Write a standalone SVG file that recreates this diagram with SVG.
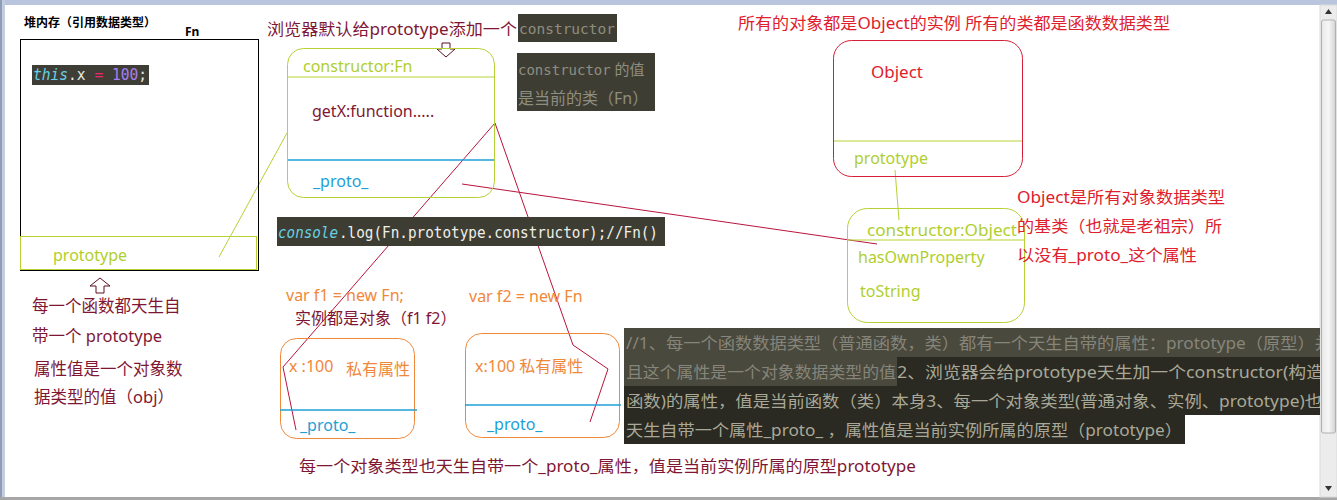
<svg xmlns="http://www.w3.org/2000/svg" width="1337" height="500" viewBox="0 0 1337 500">
<defs>
<style>
.cn{font-family:"Noto Sans","Noto Sans CJK SC",sans-serif;}
.mono{font-family:"DejaVu Sans Mono","Liberation Mono","Noto Sans CJK SC",monospace;}
.maroon{fill:#7f1734;}
.red{fill:#e0202c;}
.green{fill:#b0cf2e;}
.orange{fill:#f0883a;}
.blue{fill:#1e9fd6;}
.gl{stroke:#b4d234;fill:none;stroke-width:1;}
.rl{stroke:#b8143c;fill:none;stroke-width:1;}
.bl{stroke:#1e9fd6;stroke-width:1.3;}
.codebg{fill:#3e3d33;}
.hollow{fill:#fff;stroke:#5a1020;stroke-width:1;}
</style>
<clipPath id="clipCode"><rect x="620" y="320" width="700" height="130"/></clipPath>
<linearGradient id="thumb" x1="0" x2="1" y1="0" y2="0">
<stop offset="0" stop-color="#e8e8e8"/><stop offset="0.5" stop-color="#f6f6f6"/><stop offset="1" stop-color="#d4d4d4"/>
</linearGradient>
</defs>
<rect width="1337" height="500" fill="#ffffff"/>
<!-- window frame -->
<g id="frame">
<rect x="0" y="0" width="1337" height="5" fill="#b9c5dd"/>
<rect x="0" y="0" width="5" height="500" fill="#c2cde0"/>
<rect x="0" y="0" width="2" height="500" fill="#8e9cb8"/>
<rect x="0" y="497" width="1337" height="3" fill="#a6a6a6"/>
<rect x="1320" y="5" width="17" height="492" fill="#ececec"/>
<rect x="1320" y="5" width="17" height="492" fill="none" stroke="#dadada"/>
<path d="M1325,14 L1332,14 L1328.5,9 Z" fill="#333"/>
<rect x="1321.5" y="20" width="14" height="413" rx="2" fill="url(#thumb)" stroke="#b0b0b0"/>
<path d="M1325,486 L1332,486 L1328.5,491 Z" fill="#333"/>
</g>

<!-- connectors -->
<g id="connectors">
<line class="gl" x1="219" y1="257" x2="287" y2="133"/>
<line class="gl" x1="895" y1="170" x2="899" y2="220"/>
<line class="rl" x1="462" y1="184" x2="877" y2="244"/>
<polyline class="rl" points="495,123 283,367 296,430"/>
<polyline class="rl" points="495,123 573,345 608,369 590,422"/>
<path id="arrowUp" class="hollow" d="M100,278 L110,286 L104,286 L104,293 L96,293 L96,286 L90,286 Z"/>
<path id="arrowDown" class="hollow" d="M442,43 L450,43 L450,49 L455,49 L446,57 L437,49 L442,49 Z"/>
</g>

<!-- heap Fn box -->
<g id="heap">
<text x="24" y="27" font-family="'Noto Sans','Noto Sans CJK SC',sans-serif" font-size="12" font-weight="bold" fill="#000">堆内存（引用数据类型）</text>
<text x="185" y="36" font-family="'Noto Sans',sans-serif" font-size="12" font-weight="bold" fill="#000">Fn</text>
<rect x="20.5" y="39.5" width="238" height="231" fill="none" stroke="#000" stroke-width="1"/>
<rect x="32" y="65" width="117" height="20" fill="#3f3e36"/>
<text x="33" y="80" class="mono" font-size="15" textLength="114" lengthAdjust="spacingAndGlyphs"><tspan fill="#66d0e4" font-style="italic">this</tspan><tspan fill="#e8e8e0">.x </tspan><tspan fill="#f2266e">=</tspan><tspan fill="#e8e8e0"> </tspan><tspan fill="#a87ff0">100</tspan><tspan fill="#e8e8e0">;</tspan></text>
<rect x="20.5" y="236.5" width="236" height="33" class="gl"/>
<text x="53" y="261" class="cn green" font-size="16">prototype</text>
</g>

<g id="note-fn-prototype">
<text x="32" y="312" class="cn maroon" font-size="16.5">每一个函数都天生自</text>
<text x="32" y="342" class="cn maroon" font-size="16.5">带一个 prototype</text>
<text x="34" y="375" class="cn maroon" font-size="16.5">属性值是一个对象数</text>
<text x="34" y="403" class="cn maroon" font-size="16.5">据类型的值（obj）</text>
</g>

<!-- top note -->
<g id="note-constructor">
<text x="267" y="35" class="cn maroon" font-size="16" textLength="250" lengthAdjust="spacingAndGlyphs">浏览器默认给prototype添加一个</text>
<rect x="518" y="14" width="99" height="28" class="codebg"/>
<text x="519" y="34" class="mono" font-size="14" fill="#8e8e80" textLength="96" lengthAdjust="spacingAndGlyphs">constructor</text>
</g>

<g id="note-constructor-value">
<rect x="517" y="53" width="138" height="58" class="codebg"/>
<text x="518" y="75" class="cn" font-size="15" fill="#8e8e80"><tspan class="mono" font-size="14">constructor</tspan> 的值</text>
<text x="518" y="104" class="cn" font-size="16" fill="#8e8e80">是当前的类（Fn）</text>
</g>

<!-- Fn.prototype box -->
<g id="fn-prototype">
<rect x="287.5" y="48.5" width="207" height="149" rx="16" class="gl"/>
<line class="gl" x1="287.5" y1="77" x2="494.5" y2="77"/>
<text x="303" y="72" class="cn green" font-size="16">constructor:Fn</text>
<text x="312" y="117" class="cn maroon" font-size="16">getX:function.....</text>
<line class="bl" x1="288" y1="160" x2="494" y2="160"/>
<text x="313" y="187" class="cn blue" font-size="16">_proto_</text>
</g>

<g id="console-note">
<rect x="277" y="217" width="388" height="29" class="codebg"/>
<text x="278" y="238" class="mono" font-size="16" fill="#66d0e4" font-style="italic" textLength="60" lengthAdjust="spacingAndGlyphs">console</text>
<text x="339" y="238" class="mono" font-size="16" fill="#f0f0e8" textLength="319" lengthAdjust="spacingAndGlyphs">.log(Fn.prototype.constructor);//Fn()</text>
</g>

<!-- Object -->
<g id="note-object">
<text x="738" y="29" class="cn red" font-size="16" textLength="432" lengthAdjust="spacingAndGlyphs">所有的对象都是Object的实例 所有的类都是函数数据类型</text>
</g>

<g id="object">
<rect x="833.5" y="40.5" width="189" height="136" rx="18" fill="none" stroke="#d81e36" stroke-width="1"/>
<line class="gl" x1="834" y1="141" x2="1022" y2="141"/>
<text x="871" y="78" class="cn red" font-size="17">Object</text>
<text x="854" y="164" class="cn green" font-size="16">prototype</text>
</g>

<g id="object-prototype">
<rect x="847.5" y="208.5" width="177" height="114" rx="20" class="gl"/>
<line class="gl" x1="848" y1="240" x2="1024" y2="240"/>
<text x="867" y="236" class="cn green" font-size="16" textLength="150" lengthAdjust="spacingAndGlyphs">constructor:Object</text>
<text x="858" y="263" class="cn green" font-size="16">hasOwnProperty</text>
<text x="860" y="297" class="cn green" font-size="16">toString</text>
</g>

<g id="note-object-base">
<text x="1017" y="203" class="cn red" font-size="16" textLength="208" lengthAdjust="spacingAndGlyphs">Object是所有对象数据类型</text>
<text x="1017" y="232" class="cn red" font-size="16" textLength="205" lengthAdjust="spacingAndGlyphs">的基类（也就是老祖宗）所</text>
<text x="1017" y="261" class="cn red" font-size="16" textLength="180" lengthAdjust="spacingAndGlyphs">以没有_proto_这个属性</text>
</g>

<!-- instances -->
<g id="instance-labels">
<text x="286" y="301" class="cn orange" font-size="16">var f1 = new Fn;</text>
<text x="295" y="324" class="cn maroon" font-size="16">实例都是对象（f1 f2）</text>
<text x="469" y="302" class="cn orange" font-size="16">var f2 = new Fn</text>
</g>

<g id="f1">
<rect x="280.5" y="338.5" width="134" height="100" rx="16" fill="none" stroke="#f0883a" stroke-width="1"/>
<line class="bl" x1="280" y1="410" x2="417" y2="410"/>
<text x="289" y="372" class="cn orange" font-size="16">x :100</text>
<text x="346" y="375" class="cn orange" font-size="16">私有属性</text>
<text x="300" y="431" class="cn blue" font-size="16">_proto_</text>
</g>

<g id="f2">
<rect x="465.5" y="333.5" width="154" height="104" rx="16" fill="none" stroke="#f0883a" stroke-width="1"/>
<line class="bl" x1="465" y1="405" x2="621" y2="405"/>
<text x="475" y="372" class="cn orange" font-size="16">x:100 私有属性</text>
<text x="487" y="430" class="cn blue" font-size="16">_proto_</text>
</g>

<!-- code comment block -->
<g id="comment-block" clip-path="url(#clipCode)">
<rect x="624" y="328" width="696" height="30" fill="#4a493d"/>
<rect x="624" y="357" width="273" height="29" fill="#4a493d"/>
<rect x="897" y="357" width="423" height="29" fill="#2a2a22"/>
<rect x="624" y="386" width="696" height="29" fill="#2a2a22"/>
<rect x="624" y="415" width="561" height="29" fill="#2a2a22"/>
<text x="626" y="349" class="cn" font-size="16" fill="#86857a" textLength="706" lengthAdjust="spacingAndGlyphs">//1、每一个函数数据类型（普通函数，类）都有一个天生自带的属性：prototype（原型）并</text>
<text x="626" y="378" class="cn" font-size="16" fill="#86857a" textLength="270" lengthAdjust="spacingAndGlyphs">且这个属性是一个对象数据类型的值</text>
<text x="897" y="378" class="cn" font-size="16" fill="#a9a898" textLength="427" lengthAdjust="spacingAndGlyphs">2、浏览器会给prototype天生加一个constructor(构造</text>
<text x="626" y="407" class="cn" font-size="16" fill="#a9a898" textLength="696" lengthAdjust="spacingAndGlyphs">函数)的属性，值是当前函数（类）本身3、每一个对象类型(普通对象、实例、prototype)也</text>
<text x="626" y="436" class="cn" font-size="16" fill="#a9a898" textLength="556" lengthAdjust="spacingAndGlyphs">天生自带一个属性_proto_ ，属性值是当前实例所属的原型（prototype）</text>
</g>

<g id="note-instance-proto">
<text x="299" y="472" class="cn maroon" font-size="16" textLength="617" lengthAdjust="spacingAndGlyphs">每一个对象类型也天生自带一个_proto_属性，值是当前实例所属的原型prototype</text>
</g>
</svg>
